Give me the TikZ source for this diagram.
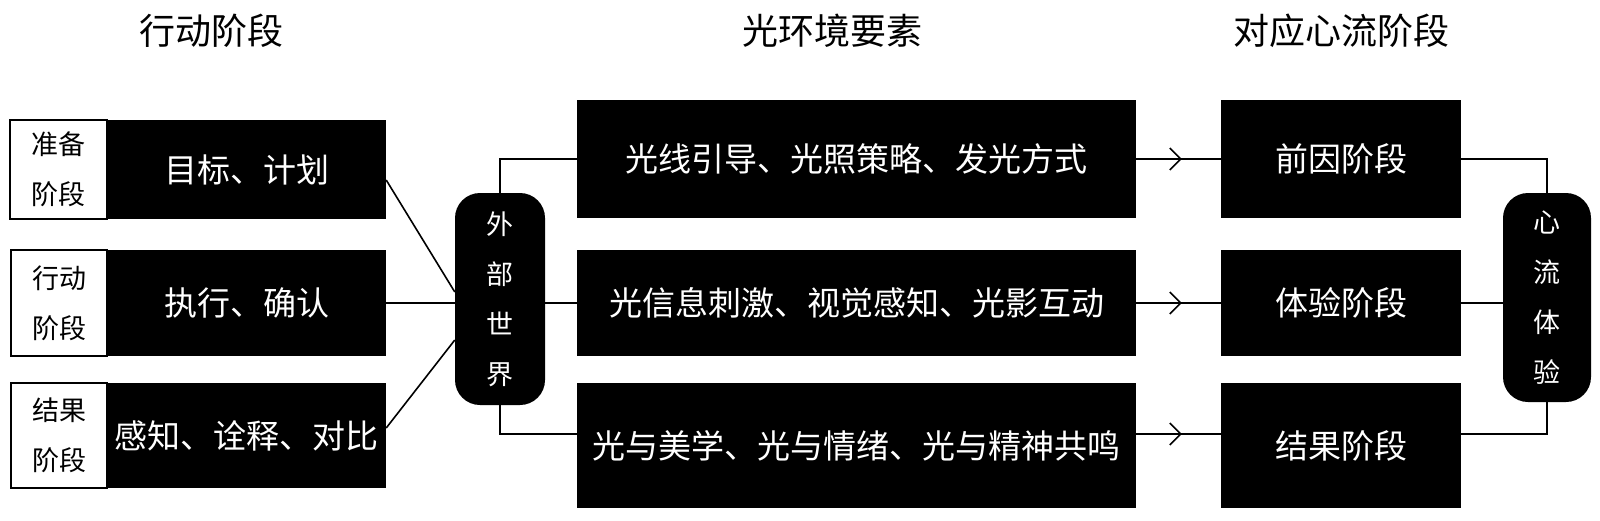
\documentclass[tikz,border=0pt]{standalone}
\usepackage{fontspec}
\setmainfont{Noto Sans CJK SC}
\usetikzlibrary{arrows.meta,decorations.markings,calc}
\begin{document}
\begin{tikzpicture}[x=1pt,y=-1pt,
 blk/.style={fill=black,text=white,inner sep=0pt,font=\fontsize{33}{40}\selectfont},
 lbl/.style={draw=black,fill=white,line width=1.6pt,inner sep=0pt,align=center,font=\fontsize{27}{50}\selectfont},
 pill/.style={fill=black,text=white,rounded corners=25pt,inner sep=0pt,align=center,font=\fontsize{27}{50}\selectfont},
 ttl/.style={inner sep=0pt,font=\fontsize{36}{40}\selectfont},
 conn/.style={line width=1.6pt},
 arr/.style={conn,postaction={decorate},decoration={markings,mark=at position 0.54 with {\arrow{Straight Barb[length=11pt,width=22pt]}}}}
]
\useasboundingbox (0,0) rectangle (1600,520);
\fill[white] (0,0) rectangle (1600,520);

% titles
\node[ttl] (t1) at (211.5,31) {行动阶段};
\node[ttl] (t2) at (832,31) {光环境要素};
\node[ttl] (t3) at (1341,31) {对应心流阶段};

% left column
\node[lbl,minimum width=97pt,minimum height=99pt] (p1) at (58.5,169.5) {准备\\阶段};
\node[blk,minimum width=279pt,minimum height=99pt] (b1) at (246.5,169.5) {目标、计划};
\node[lbl,minimum width=96pt,minimum height=106pt] (p2) at (59,303) {行动\\阶段};
\node[blk,minimum width=279pt,minimum height=106pt] (b2) at (246.5,303) {执行、确认};
\node[lbl,minimum width=96pt,minimum height=105pt] (p3) at (59,435.5) {结果\\阶段};
\node[blk,minimum width=279pt,minimum height=105pt] (b3) at (246.5,435.5) {感知、诠释、对比};

% pills
\node[pill,minimum width=90pt,minimum height=212pt] (wp) at (500,299) {外\\部\\世\\界};
\node[pill,minimum width=88pt,minimum height=209pt] (fp) at (1547,297.5) {心\\流\\体\\验};

% middle column
\node[blk,minimum width=559pt,minimum height=118pt] (mA) at (856.5,159) {光线引导、光照策略、发光方式};
\node[blk,minimum width=559pt,minimum height=106pt] (mB) at (856.5,303) {光信息刺激、视觉感知、光影互动};
\node[blk,minimum width=559pt,minimum height=125pt] (mC) at (856.5,445.5) {光与美学、光与情绪、光与精神共鸣};

% right column
\node[blk,minimum width=240pt,minimum height=118pt] (rA) at (1341,159) {前因阶段};
\node[blk,minimum width=240pt,minimum height=106pt] (rB) at (1341,303) {体验阶段};
\node[blk,minimum width=240pt,minimum height=125pt] (rC) at (1341,445.5) {结果阶段};

% connectors
\draw[conn] ([yshift=-10.5pt]b1.east) -- ([yshift=7pt]wp.west);
\draw[conn] (b2.east) -- (b2.east -| wp.west);
\draw[conn] ([yshift=7.5pt]b3.east) -- ([yshift=-41pt]wp.west);
\draw[conn] (wp.north) |- (mA.west);
\draw[conn] (wp.east |- mB.west) -- (mB.west);
\draw[conn] (wp.south) |- ([yshift=11.5pt]mC.west);
\draw[arr] (mA.east) -- (rA.west);
\draw[arr] (mB.east) -- (rB.west);
\draw[arr] ([yshift=11.5pt]mC.east) -- ([yshift=11.5pt]rC.west);
\draw[conn] (rA.east) -| (fp.north);
\draw[conn] (rB.east) -- (rB.east -| fp.west);
\draw[conn] ([yshift=11.5pt]rC.east) -| (fp.south);
\end{tikzpicture}
\end{document}
